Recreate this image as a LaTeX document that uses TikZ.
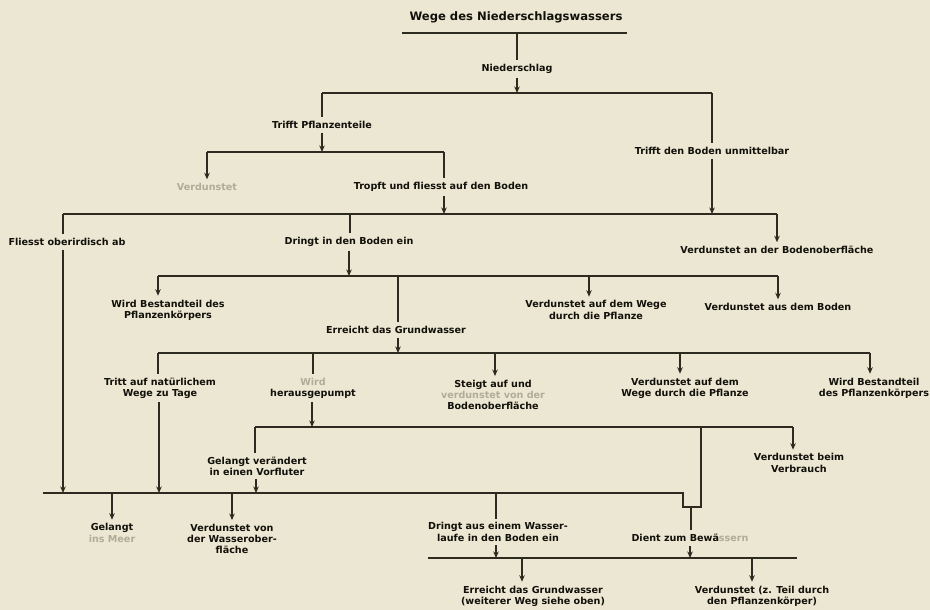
\documentclass[tikz,border=0pt]{standalone}
\usepackage{fontspec}
\setmainfont{DejaVu Sans}
\usetikzlibrary{arrows.meta}
\definecolor{paper}{RGB}{235,231,210}
\definecolor{ink}{RGB}{45,42,32}
\definecolor{txt}{RGB}{18,16,10}
\definecolor{faint}{RGB}{178,172,150}
\begin{document}
\begin{tikzpicture}[x=1pt,y=-1pt,
 ln/.style={draw=ink,line width=1.5pt},
 arr/.style={ln,-{Stealth[length=6.5pt,width=5.5pt]}},
 lbl/.style={font=\bfseries\fontsize{9.6}{11.2}\selectfont,text=txt,align=center,inner sep=1pt,outer sep=3pt},
 ttl/.style={font=\bfseries\fontsize{11.6}{13}\selectfont,text=txt,inner sep=1pt}]
\fill[paper] (0,0) rectangle (930,610);
\useasboundingbox (0,0) rectangle (930,610);
% title
\node[ttl] (title) at (516,17) {Wege des Niederschlagswassers};
\coordinate (t1) at (402,33); \coordinate (t2) at (627,33); \coordinate (tm) at (517,33);
\draw[ln] (t1) -- (t2);
\node[lbl] (ns) at (517,69) {Niederschlag};
\draw[ln] (tm) -- (ns.north);
% bar 2
\coordinate (b2a) at (322,93); \coordinate (b2m) at (517,93); \coordinate (b2b) at (712,93);
\draw[arr] (ns.south) -- (b2m);
\draw[ln] (b2a) -- (b2b);
\node[lbl] (tp) at (322,125) {Trifft Pflanzenteile};
\node[lbl] (tb) at (712,151) {Trifft den Boden unmittelbar};
\draw[ln] (b2a) -- (tp.north);
\draw[ln] (b2b) -- (tb.north);
% bar 3
\coordinate (b3a) at (207,152); \coordinate (b3m) at (322,152); \coordinate (b3b) at (444,152);
\draw[arr] (tp.south) -- (b3m);
\draw[ln] (b3a) -- (b3b);
\node[lbl,text=faint] (vd) at (207,187) {Verdunstet};
\draw[arr] (b3a) -- (vd.north);
\node[lbl] (tr) at (441,187) {Tropft und fliesst auf den Boden};
\draw[ln] (b3b) -- (b3b |- tr.north);
% bar 4
\coordinate (b4a) at (63,214); \coordinate (b4d) at (350,214); \coordinate (b4t) at (444,214);
\coordinate (b4u) at (712,214); \coordinate (b4b) at (777,214);
\draw[arr] (tr.south -| b4t) -- (b4t);
\draw[arr] (tb.south) -- (b4u);
\draw[ln] (b4a) -- (b4b);
\node[lbl] (fo) at (67,242) {Fliesst oberirdisch ab};
\draw[ln] (b4a) -- (b4a |- fo.north);
\node[lbl] (db) at (349,242) {Dringt in den Boden ein};
\draw[ln] (b4d) -- (b4d |- db.north);
\node[lbl] (vb) at (777,250) {Verdunstet an der Bodenoberfläche};
\draw[arr] (b4b) -- (vb.north);
% bar 5
\coordinate (b5a) at (158,276); \coordinate (b5d) at (349,276); \coordinate (b5e) at (398,276);
\coordinate (b5v) at (589,276); \coordinate (b5b) at (778,276);
\draw[arr] (db.south -| b5d) -- (b5d);
\draw[ln] (b5a) -- (b5b);
\node[lbl] (wb1) at (168,310) {Wird Bestandteil des\\Pflanzenkörpers};
\draw[arr] (b5a) -- (b5a |- wb1.north);
\node[lbl] (eg) at (396,330) {Erreicht das Grundwasser};
\draw[ln] (b5e) -- (b5e |- eg.north);
\node[lbl] (vw1) at (596,310) {Verdunstet auf dem Wege\\durch die Pflanze};
\draw[arr] (b5v) -- (b5v |- vw1.north);
\node[lbl] (vab) at (778,307) {Verdunstet aus dem Boden};
\draw[arr] (b5b) -- (vab.north);
% bar 6
\coordinate (b6a) at (158,353); \coordinate (b6w) at (313,353); \coordinate (b6e) at (398,353);
\coordinate (b6s) at (495,353); \coordinate (b6v) at (680,353); \coordinate (b6b) at (870,353);
\draw[arr] (eg.south -| b6e) -- (b6e);
\draw[ln] (b6a) -- (b6b);
\node[lbl] (tn) at (160,388) {Tritt auf natürlichem\\Wege zu Tage};
\draw[ln] (b6a) -- (b6a |- tn.north);
\node[lbl] (wh) at (313,388) {\textcolor{faint}{Wird}\\herausgepumpt};
\draw[ln] (b6w) -- (wh.north);
\node[lbl] (sa) at (493,395) {Steigt auf und\\\textcolor{faint}{verdunstet von der}\\Bodenoberfläche};
\draw[arr] (b6s) -- (b6s |- sa.north);
\node[lbl] (vw2) at (685,388) {Verdunstet auf dem\\Wege durch die Pflanze};
\draw[arr] (b6v) -- (b6v |- vw2.north);
\node[lbl] (wb2) at (874,388) {Wird Bestandteil\\des Pflanzenkörpers};
\draw[arr] (b6b) -- (b6b |- wb2.north);
% bar 8
\coordinate (b8a) at (255,427); \coordinate (b8w) at (312,427); \coordinate (b8n) at (701,427);
\coordinate (b8b) at (793,427);
\draw[arr] (wh.south -| b8w) -- (b8w);
\draw[ln] (b8a) -- (b8b);
\node[lbl] (gv) at (257,466) {Gelangt verändert\\in einen Vorfluter};
\draw[ln] (b8a) -- (b8a |- gv.north);
\node[lbl] (vbv) at (799,463) {Verdunstet beim\\Verbrauch};
\draw[arr] (b8b) -- (b8b |- vbv.north);
% bar 7
\coordinate (b7a) at (43,493); \coordinate (b7f) at (63,493); \coordinate (b7g) at (112,493);
\coordinate (b7t) at (159,493); \coordinate (b7v) at (232,493); \coordinate (b7n) at (256,493);
\coordinate (b7d) at (496,493); \coordinate (b7e) at (683,493);
\coordinate (nk1) at (683,507); \coordinate (nk2) at (701,507); \coordinate (nk) at (691,507);
\draw[arr] (fo.south -| b7f) -- (b7f);
\draw[arr] (tn.south -| b7t) -- (b7t);
\draw[arr] (gv.south -| b7n) -- (b7n);
\draw[ln] (b7a) -- (b7e) -- (nk1) -- (nk2) -- (b8n);
\node[lbl] (gm) at (112,533) {Gelangt\\\textcolor{faint}{ins Meer}};
\draw[arr] (b7g) -- (gm.north);
\node[lbl] (vdw) at (232,539) {Verdunstet von\\der Wasserober-\\fläche};
\draw[arr] (b7v) -- (vdw.north);
\node[lbl] (da) at (498,532) {Dringt aus einem Wasser-\\laufe in den Boden ein};
\draw[ln] (b7d) -- (b7d |- da.north);
\node[lbl] (dz) at (690,538) {Dient zum Bewä\textcolor{faint}{ssern}};
\draw[ln] (nk) -- (nk |- dz.north);
% bar 9
\coordinate (b9a) at (428,558); \coordinate (b9d) at (496,558); \coordinate (b9e) at (522,558);
\coordinate (b9z) at (690,558); \coordinate (b9v) at (752,558); \coordinate (b9b) at (797,558);
\draw[arr] (da.south -| b9d) -- (b9d);
\draw[arr] (dz.south -| b9z) -- (b9z);
\draw[ln] (b9a) -- (b9b);
\node[lbl] (eg2) at (533,596) {Erreicht das Grundwasser\\(weiterer Weg siehe oben)};
\draw[arr] (b9e) -- (b9e |- eg2.north);
\node[lbl] (vz) at (762,596) {Verdunstet (z. Teil durch\\den Pflanzenkörper)};
\draw[arr] (b9v) -- (b9v |- vz.north);
\end{tikzpicture}
\end{document}
